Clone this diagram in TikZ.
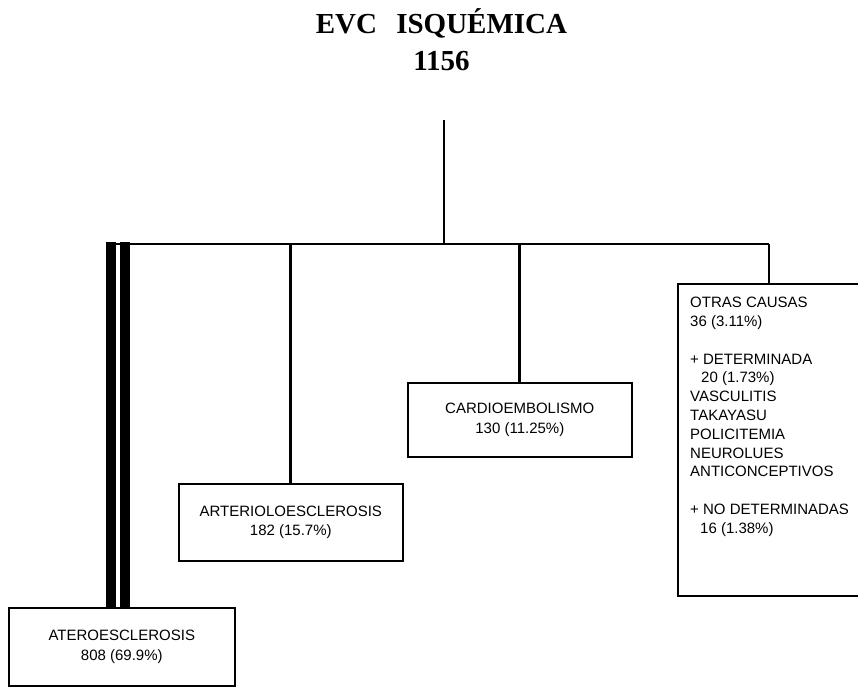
\documentclass[tikz,border=0pt]{standalone}
\usepackage{fontspec}
\setmainfont{Liberation Sans}
\newfontfamily\titlefont{Liberation Serif}
\begin{document}
\begin{tikzpicture}[x=1pt,y=-1pt,
  box/.style={draw=black,line width=1.6pt,rectangle,inner sep=0pt,align=center,
    font=\fontsize{15}{19.5}\selectfont},
  conn/.style={draw=black,line width=2.8pt},
  bar/.style={draw=black,line width=10pt},
  ttl/.style={font=\titlefont\bfseries\fontsize{29}{37}\selectfont}]
\useasboundingbox (0,0) rectangle (858,686);
\clip (0,0) rectangle (858,686);
% title
\node[ttl,anchor=base] (title) at (441.5,33) {EVC\hspace*{12pt} ISQUÉMICA};
\node[ttl,anchor=base] (total) at (441.5,70) {1156};
% boxes
\node[box,minimum width=226pt,minimum height=78pt,anchor=north west] (ather) at (8,607)
  {ATEROESCLEROSIS\\808 (69.9\%)};
\node[box,minimum width=224pt,minimum height=77pt,anchor=north west] (arter) at (178,483)
  {ARTERIOLOESCLEROSIS\\182 (15.7\%)};
\node[box,minimum width=224pt,minimum height=74pt,anchor=north west] (cardio) at (407,382)
  {CARDIOEMBOLISMO\\130 (11.25\%)};
\node[box,minimum width=210pt,minimum height=312pt,anchor=north west] (otras) at (677,283) {};
\node[anchor=north west,inner sep=0pt,align=left,font=\fontsize{15}{18.8}\selectfont] (otrastxt) at (690,297)
  {OTRAS CAUSAS\\36 (3.11\%)\\[18.8pt]
   + DETERMINADA\\\hspace*{11pt}20 (1.73\%)\\VASCULITIS\\TAKAYASU\\POLICITEMIA\\NEUROLUES\\ANTICONCEPTIVOS\\[18.8pt]
   + NO DETERMINADAS\\\hspace*{10pt}16 (1.38\%)};
% connectors
\coordinate (top) at (444,120);
\coordinate (hub) at (444,244);
\coordinate (hl) at (106,244);
\coordinate (hr) at (769,244);
\coordinate (b1) at (111,242);
\coordinate (b2) at (125,242);
\draw[conn] (top) -- (hub);
\draw[conn] (hl) -- (hr);
\draw[bar] (b1) -- (b1 |- ather.north);
\draw[bar] (b2) -- (b2 |- ather.north);
\draw[conn] (arter.north |- hub) -- (arter.north);
\draw[conn] (cardio.north |- hub) -- (cardio.north);
\draw[conn] (hr) -- (hr |- otras.north);
\end{tikzpicture}
\end{document}
